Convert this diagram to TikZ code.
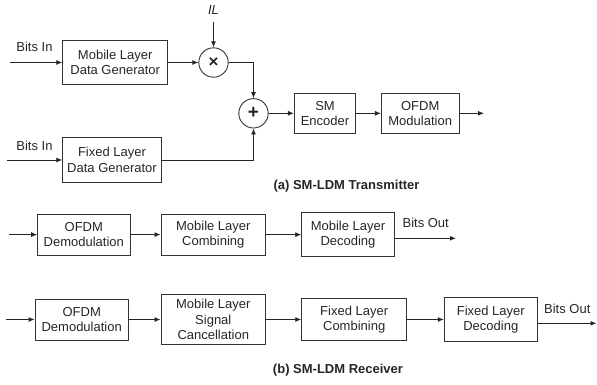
\documentclass[tikz,border=0pt]{standalone}
\usepackage{fontspec}
\setmainfont{Liberation Sans}
\usetikzlibrary{arrows.meta}
\begin{document}
\begin{tikzpicture}[x=1pt,y=-1pt,
  every node/.style={font=\fontsize{13}{15.5}\selectfont, text=black!85},
  blk/.style={draw=black!80, line width=0.9pt, inner sep=0pt, align=center},
  sumc/.style={draw=black!80, line width=0.9pt, circle, minimum size=29.4pt, inner sep=0pt, font=\fontsize{19}{19}\selectfont\bfseries},
  lbl/.style={inner sep=0pt},
  captxt/.style={inner sep=0pt, font=\fontsize{13}{15}\selectfont\bfseries},
  conn/.style={draw=black!85, line width=0.9pt, -{Latex[length=6pt,width=5pt]}},
  wire/.style={draw=black!85, line width=0.9pt}]
\useasboundingbox (0,0) rectangle (597,384);
% Transmitter
\node[blk, minimum width=105pt, minimum height=44.4pt] (mob) at (115.2,62.5) {Mobile Layer\\Data Generator};
\node[blk, minimum width=98.6pt, minimum height=45pt] (fix) at (112,160) {Fixed Layer\\Data Generator};
\node[sumc, font=\fontsize{17}{17}\selectfont\bfseries] (mul) at (213.5,62.5) {×};
\node[sumc] (add) at (253.5,113.3) {+};
\node[blk, minimum width=61.4pt, minimum height=40.6pt] (sm) at (325,113.3) {SM\\Encoder};
\node[blk, minimum width=77.7pt, minimum height=40.6pt] (ofdm) at (420.2,113.3) {OFDM\\Modulation};
\coordinate (txout) at (484,113.3);
\node[lbl, font=\fontsize{13}{15}\selectfont\itshape] (il) at (213.5,10) {IL};
\coordinate (ilin) at (213.5,21.7);
\node[lbl] (bin1) at (34.5,47) {Bits In};
\node[lbl] (bin2) at (34.5,146) {Bits In};
\coordinate (in1) at (10,62.5);
\coordinate (in2) at (6.7,160);
\draw[conn] (in1) -- (mob);
\draw[conn] (in2) -- (fix);
\draw[conn] (mob) -- (mul);
\draw[conn] (ilin) -- (mul);
\draw[conn] (mul.east) -| (add.north);
\draw[conn] (fix.east) -| (add.south);
\draw[conn] (add) -- (sm);
\draw[conn] (sm) -- (ofdm);
\draw[conn] (ofdm) -- (txout);
\node[captxt] (capa) at (346.5,186.3) {(a) SM-LDM Transmitter};
% Receiver row 1
\coordinate (r1in) at (9,234.6);
\node[blk, minimum width=92.3pt, minimum height=40.7pt] (od1) at (83.8,234.6) {OFDM\\Demodulation};
\node[blk, minimum width=104.7pt, minimum height=40.7pt] (mlc) at (213.3,234.6) {Mobile Layer\\Combining};
\node[blk, minimum width=92.6pt, minimum height=44.6pt] (mld) at (348,234.6) {Mobile Layer\\Decoding};
\coordinate (r1out) at (456,238.3);
\node[lbl] (bo1) at (425.7,223.3) {Bits Out};
\draw[conn] (r1in) -- (od1);
\draw[conn] (od1) -- (mlc);
\draw[conn] (mlc) -- (mld);
\draw[conn] (mld.east |- r1out) -- (r1out);
% Receiver row 2
\coordinate (r2in) at (6,319.5);
\node[blk, minimum width=93.3pt, minimum height=41pt] (od2) at (81.7,319.5) {OFDM\\Demodulation};
\node[blk, minimum width=104.7pt, minimum height=50.7pt] (mlsc) at (213.3,319.5) {Mobile Layer\\Signal\\Cancellation};
\node[blk, minimum width=105pt, minimum height=41.7pt] (flc) at (354.2,319.5) {Fixed Layer\\Combining};
\node[blk, minimum width=93pt, minimum height=44.7pt] (fld) at (490.8,319.5) {Fixed Layer\\Decoding};
\coordinate (r2out) at (596.5,323.3);
\node[lbl] (bo2) at (567.3,309.3) {Bits Out};
\draw[conn] (r2in) -- (od2);
\draw[conn] (od2) -- (mlsc);
\draw[conn] (mlsc) -- (flc);
\draw[conn] (flc) -- (fld);
\draw[conn] (fld.east |- r2out) -- (r2out);
\node[captxt] (capb) at (338,370) {(b) SM-LDM Receiver};
\end{tikzpicture}
\end{document}
